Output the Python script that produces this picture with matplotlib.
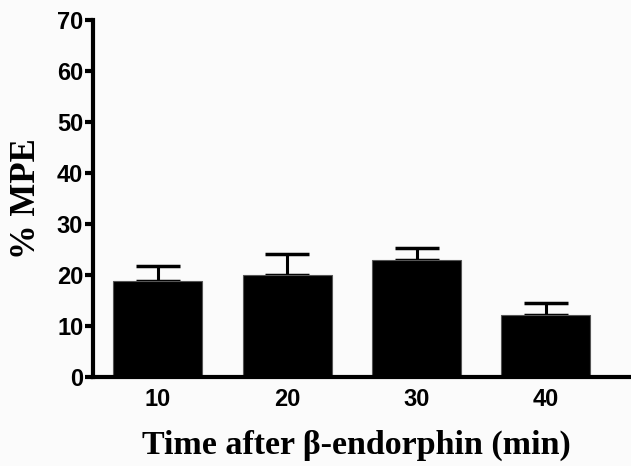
import matplotlib
matplotlib.use("Agg")
import matplotlib.pyplot as plt
import numpy as np

# data
times = ["10", "20", "30", "40"]
mpe_mean = [18.9, 20.0, 23.0, 12.1]
mpe_sem = [2.9, 4.1, 2.2, 2.4]

fig = plt.figure(figsize=(6.31, 4.66), dpi=100, facecolor="#fbfbfb")
ax = fig.add_axes([0.1474, 0.191, 0.849, 0.766])
ax.set_facecolor("#fbfbfb")

x = np.arange(len(times))
ax.bar(x, mpe_mean, width=0.687, color="black", edgecolor="#555555", linewidth=0.8, zorder=2)
ax.errorbar(x, mpe_mean, yerr=[np.zeros(len(mpe_sem)), mpe_sem], fmt="none",
            ecolor="black", elinewidth=2.2, capsize=16, capthick=2.5, zorder=1)

ax.set_xlim(-0.5, 3.64)
ax.set_ylim(0, 70)
ax.set_yticks(np.arange(0, 71, 10))
ax.set_xticks(x)
ax.set_xticklabels(times)

for s in ["top", "right"]:
    ax.spines[s].set_visible(False)
for s in ["left", "bottom"]:
    ax.spines[s].set_linewidth(3)
ax.tick_params(axis="y", length=6, width=3, direction="out", pad=1)
ax.tick_params(axis="x", length=0, pad=8)
for lab in ax.get_xticklabels() + ax.get_yticklabels():
    lab.set_fontfamily("Liberation Sans")
    lab.set_fontweight("bold")
    lab.set_fontsize(17)

ax.set_xlabel("Time after β-endorphin (min)", fontfamily="Liberation Serif",
              fontweight="bold", fontsize=24.5)
ax.xaxis.set_label_coords(0.492, -0.148)
ax.set_ylabel("% MPE", fontfamily="Liberation Serif", fontweight="bold",
              fontsize=25, labelpad=10)

fig.savefig("out.png", dpi=100, facecolor=fig.get_facecolor())
